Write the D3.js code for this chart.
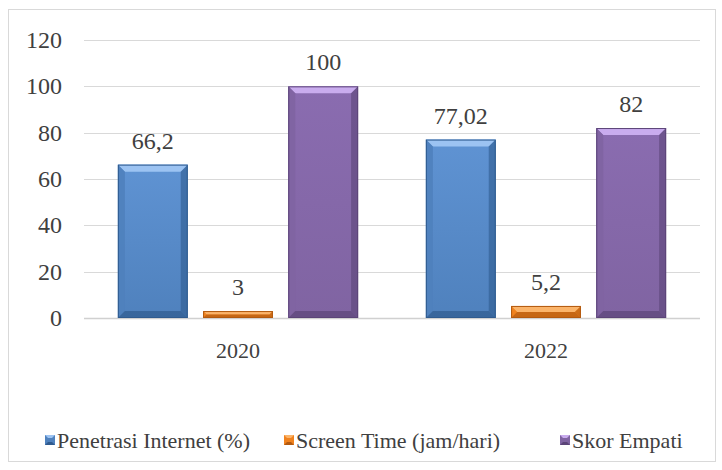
<!DOCTYPE html>
<html>
<head>
<meta charset="utf-8">
<script src="https://cdn.jsdelivr.net/npm/d3@7"></script>
</head>
<body style="margin:0">
<svg id="chart" width="722" height="470"></svg>
<script>
// ── data ──
const years = ['2020', '2022'];
const seriesNames = ['Penetrasi Internet (%)', 'Screen Time (jam/hari)', 'Skor Empati'];
const penetrasi = [66.2, 77.02];
const screenTime = [3, 5.2];
const skorEmpati = [100, 82];
const yTicks = [0, 20, 40, 60, 80, 100, 120];

// warna per seri: dasar, terang (atas), gelap (sisi)
const PAL = [
  { base: '#4f81bd', light: '#9cc3f2', mid: '#5f93d3', dark: '#2f5b8f' },
  { base: '#f0821e', light: '#fbb46a', mid: '#f58f2a', dark: '#b35a10' },
  { base: '#8064a2', light: '#c9acee', mid: '#8a6cb0', dark: '#5b4478' }
];
const TXT = '#404040';

const svg = d3.select('#chart');
const txt = sel => sel.style('font-family', () => '"Liberation Serif", monospace').attr('fill', TXT);

// outer border
svg.append('rect').attr('x', 8.5).attr('y', 9.5).attr('width', 707).attr('height', 452)
  .attr('fill', '#fff').attr('stroke', '#d9d9d9').attr('stroke-width', 1);

const plot = { l: 84, r: 700, t: 40, b: 318 };
const x0 = d3.scaleBand().domain(years).range([plot.l, plot.r]).paddingInner(0.22).paddingOuter(0.11);
const x1 = d3.scaleBand().domain(d3.range(seriesNames.length)).range([0, x0.bandwidth()]).paddingInner(0.18);
const y = d3.scaleLinear().domain([0, 120]).range([plot.b, plot.t]);

// gridlines
svg.append('g').selectAll('line').data(yTicks).enter().append('line')
  .attr('x1', plot.l).attr('x2', plot.r)
  .attr('y1', d => Math.round(y(d)) + 0.5).attr('y2', d => Math.round(y(d)) + 0.5)
  .attr('stroke', d => d === 0 ? '#d0d0d0' : '#d9d9d9').attr('stroke-width', d => d === 0 ? 1.5 : 1);

// y tick labels
svg.append('g').selectAll('text').data(yTicks).enter().append('text')
  .attr('x', 62).attr('y', d => y(d) + 8)
  .attr('text-anchor', 'end').attr('font-size', 24).call(txt).text(d => d);

// gradients
const defs = svg.append('defs');
PAL.forEach((p, i) => {
  const g = defs.append('linearGradient').attr('id', 'grad' + i)
    .attr('x1', 0).attr('x2', 0).attr('y1', 0).attr('y2', 1);
  g.append('stop').attr('offset', '0%').attr('stop-color', p.mid);
  g.append('stop').attr('offset', '100%').attr('stop-color', p.base);
});

const series = [penetrasi, screenTime, skorEmpati];
const fmt = v => String(v).replace('.', ',');

years.forEach((yr, yi) => {
  series.forEach((vals, si) => {
    const v = vals[yi];
    const bx = x0(yr) + x1(si), bw = x1.bandwidth();
    const top = y(v), bot = y(0), bh = bot - top;
    const p = PAL[si];
    const bev = Math.min(7, bh / 2);
    const g = svg.append('g');
    g.append('rect').attr('x', bx).attr('y', top).attr('width', bw).attr('height', bh)
      .attr('fill', `url(#grad${si})`);
    // top bevel
    g.append('polygon').attr('points', [[bx, top], [bx + bw, top], [bx + bw - bev, top + bev], [bx + bev, top + bev]].join(' '))
      .attr('fill', p.light);
    // left bevel
    g.append('polygon').attr('points', [[bx, top], [bx + bev, top + bev], [bx + bev, bot - bev], [bx, bot]].join(' '))
      .attr('fill', p.base).attr('opacity', 0.9);
    // right bevel
    g.append('polygon').attr('points', [[bx + bw, top], [bx + bw - bev, top + bev], [bx + bw - bev, bot - bev], [bx + bw, bot]].join(' '))
      .attr('fill', p.dark).attr('opacity', 0.6);
    // bottom bevel
    g.append('polygon').attr('points', [[bx, bot], [bx + bev, bot - bev], [bx + bw - bev, bot - bev], [bx + bw, bot]].join(' '))
      .attr('fill', p.dark).attr('opacity', 0.7);
    g.append('rect').attr('x', bx + 0.5).attr('y', top + 0.5).attr('width', bw - 1).attr('height', Math.max(0, bh - 1))
      .attr('fill', 'none').attr('stroke', p.dark).attr('stroke-width', 1);
    // label
    svg.append('text').attr('x', bx + bw / 2).attr('y', top - 16)
      .attr('text-anchor', 'middle').attr('font-size', 24).call(txt).text(fmt(v));
  });
});

// category labels
svg.append('g').selectAll('text').data(years).enter().append('text')
  .attr('x', d => x0(d) + x0.bandwidth() / 2).attr('y', 358)
  .attr('text-anchor', 'middle').attr('font-size', 22).call(txt).text(d => d);

// legend
const legX = [45, 284, 560];
seriesNames.forEach((name, i) => {
  const p = PAL[i];
  const lg = svg.append('g').attr('transform', `translate(${legX[i]},435)`);
  lg.append('rect').attr('x', 0).attr('y', 0).attr('width', 10).attr('height', 10).attr('fill', p.base);
  lg.append('polygon').attr('points', '0,0 10,0 7,3 3,3').attr('fill', p.light);
  lg.append('polygon').attr('points', '0,10 10,10 7,7 3,7').attr('fill', p.dark);
  lg.append('text').attr('x', 12).attr('y', 13)
    .attr('font-size', 22).call(txt).text(name);
});
</script>
</body>
</html>
